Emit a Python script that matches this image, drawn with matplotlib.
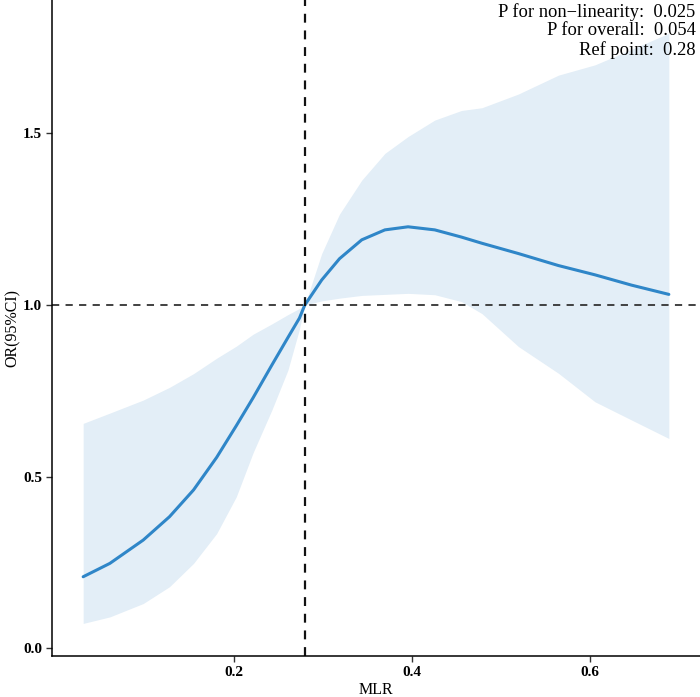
import matplotlib.pyplot as plt

# values
mlr = [0.031, 0.061, 0.0985, 0.128, 0.155, 0.181, 0.203, 0.222, 0.243, 0.261,
       0.274, 0.280, 0.299, 0.319, 0.344, 0.370, 0.396, 0.426, 0.456, 0.479,
       0.520, 0.565, 0.606, 0.647, 0.689]
or_est = [0.208, 0.247, 0.315, 0.383, 0.461, 0.556, 0.648, 0.730, 0.825, 0.905,
          0.962, 1.000, 1.073, 1.135, 1.190, 1.219, 1.228, 1.219, 1.198, 1.180,
          1.150, 1.115, 1.088, 1.058, 1.031]
or_upper = [0.655, 0.685, 0.723, 0.760, 0.800, 0.845, 0.880, 0.915, 0.945, 0.972,
            0.990, 1.000, 1.150, 1.265, 1.364, 1.442, 1.491, 1.539, 1.567, 1.575,
            1.615, 1.670, 1.700, 1.745, 1.792]
or_lower = [0.072, 0.091, 0.130, 0.179, 0.247, 0.334, 0.441, 0.570, 0.694, 0.810,
            0.930, 1.000, 1.012, 1.020, 1.028, 1.031, 1.034, 1.030, 1.010, 0.975,
            0.879, 0.801, 0.718, 0.665, 0.611]

ref_point = 0.28
notes = ["P for non\u2212linearity:  0.025", "P for overall:  0.054", "Ref point:  0.28"]
xticks = [0.2, 0.4, 0.6]
yticks = [0.0, 0.5, 1.0, 1.5]

plt.rcParams['font.family'] = ['Liberation Serif', 'DejaVu Serif']

fig = plt.figure(figsize=(7, 6.97), dpi=100)
ax = fig.add_axes([0.0743, 0.0588, 0.9257, 0.9412])

ax.fill_between(mlr, or_lower, or_upper, color='#e3eef7', linewidth=0)
ax.plot(mlr, or_est, color='#2f86c8', linewidth=2.2, solid_capstyle='round')
ax.axhline(1.0, color='#333333', linestyle=(0, (4, 3.5)), linewidth=1.3)
ax.axvline(ref_point, color='#111111', linestyle=(0, (4, 3.5)), linewidth=1.6)

ax.set_xlim(-0.004, 0.724)
ax.set_ylim(-0.023, 1.889)
ax.set_xticks(xticks)
ax.set_xticklabels([f'{v:.1f}' for v in xticks], fontweight='bold', fontsize=11)
ax.set_yticks(yticks)
ax.set_yticklabels([f'{v:.1f}' for v in yticks], fontweight='bold', fontsize=11)
ax.tick_params(direction='out', length=4, width=1, color='#333333', pad=3)

ax.spines['top'].set_visible(False)
ax.spines['right'].set_visible(False)
ax.spines['left'].set_linewidth(1.1)
ax.spines['bottom'].set_linewidth(1.1)

ax.set_xlabel('MLR', fontsize=11.5, labelpad=2)
ax.set_ylabel('OR(95%CI)', fontsize=11.5, labelpad=2)

ax.text(0.993, 0.995, '\n'.join(notes), transform=ax.transAxes, ha='right', va='top',
        fontsize=13.3, linespacing=1.1, multialignment='right')

fig.savefig('out.png', dpi=100)
